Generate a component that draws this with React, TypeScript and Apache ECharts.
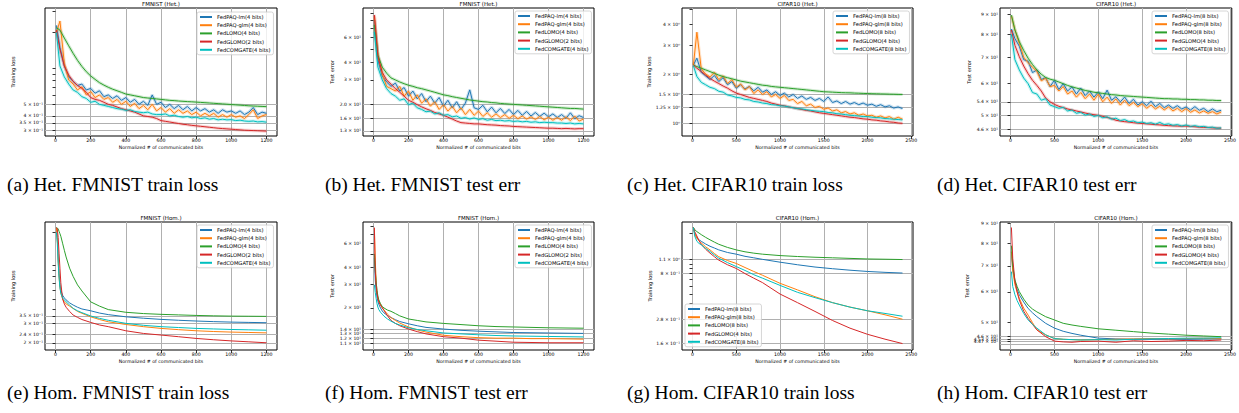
import React, { useEffect, useRef } from "react";
import * as echarts from "echarts";

const FONT = "DejaVu Sans";
const SERIF = "Liberation Serif";
const COLORS = ["#1f77b4", "#ff7f0e", "#2ca02c", "#d62728", "#00bfbf"];

const NAMES_F = ["FedPAQ-lm(4 bits)", "FedPAQ-glm(4 bits)", "FedLOMO(4 bits)", "FedGLOMO(2 bits)", "FedCOMGATE(4 bits)"];
const NAMES_C = ["FedPAQ-lm(8 bits)", "FedPAQ-glm(8 bits)", "FedLOMO(8 bits)", "FedGLOMO(4 bits)", "FedCOMGATE(8 bits)"];

const TICKS_X_F = [0, 200, 400, 600, 800, 1000, 1200];
const TICKS_X_C = [0, 500, 1000, 1500, 2000, 2500];

// x positions (normalized # of communicated bits)
const XF = [5, 25, 50, 75, 100, 125, 150, 175, 200, 225, 250, 275, 300, 325, 350, 375, 400, 425, 450, 475, 500, 525, 550, 575, 600, 625, 650, 675, 700, 725, 750, 775, 800, 825, 850, 875, 900, 925, 950, 975, 1000, 1025, 1050, 1075, 1100, 1125, 1150, 1175, 1200];
const XC = [10, 50, 100, 150, 200, 250, 300, 350, 400, 450, 500, 550, 600, 650, 700, 750, 800, 850, 900, 950, 1000, 1050, 1100, 1150, 1200, 1250, 1300, 1350, 1400, 1450, 1500, 1550, 1600, 1650, 1700, 1750, 1800, 1850, 1900, 1950, 2000, 2050, 2100, 2150, 2200, 2250, 2300, 2350, 2400];
const XFH = [5, 10, 15, 20, 25, 30, 40, 50, 60, 80, 100, 125, 150, 200, 250, 300, 400, 500, 600, 700, 800, 900, 1000, 1100, 1200];
const XCH = [10, 25, 50, 75, 100, 150, 200, 250, 300, 400, 500, 600, 700, 800, 1000, 1200, 1400, 1600, 1800, 2000, 2200, 2400];

// (a) Het. FMNIST train loss
const A_LM = [2.3, 1.5, 1.05, 0.85, 0.78, 0.72, 0.74, 0.66, 0.68, 0.62, 0.65, 0.58, 0.6, 0.56, 0.59, 0.54, 0.57, 0.52, 0.55, 0.5, 0.53, 0.49, 0.6, 0.5, 0.52, 0.47, 0.5, 0.46, 0.49, 0.45, 0.48, 0.44, 0.47, 0.44, 0.46, 0.43, 0.45, 0.42, 0.45, 0.43, 0.44, 0.42, 0.44, 0.41, 0.43, 0.47, 0.41, 0.43, 0.42];
const A_GLM = [2.0, 2.5, 1.1, 0.8, 0.74, 0.66, 0.7, 0.6, 0.64, 0.57, 0.6, 0.55, 0.57, 0.52, 0.55, 0.5, 0.53, 0.48, 0.51, 0.46, 0.49, 0.45, 0.5, 0.44, 0.47, 0.43, 0.46, 0.42, 0.45, 0.42, 0.44, 0.41, 0.43, 0.4, 0.42, 0.4, 0.42, 0.39, 0.41, 0.39, 0.41, 0.39, 0.4, 0.38, 0.41, 0.45, 0.38, 0.4, 0.41];
const A_LOMO = [2.2, 2.1, 1.8, 1.55, 1.34, 1.17, 1.04, 0.94, 0.865, 0.81, 0.76, 0.725, 0.695, 0.67, 0.65, 0.63, 0.61, 0.6, 0.59, 0.58, 0.57, 0.565, 0.56, 0.555, 0.55, 0.545, 0.54, 0.537, 0.533, 0.53, 0.527, 0.525, 0.522, 0.519, 0.516, 0.513, 0.51, 0.507, 0.504, 0.501, 0.498, 0.495, 0.492, 0.489, 0.486, 0.484, 0.482, 0.48, 0.478];
const A_GLOMO = [2.1, 1.45, 1.05, 0.88, 0.78, 0.72, 0.68, 0.63, 0.57, 0.55, 0.54, 0.52, 0.5, 0.49, 0.475, 0.46, 0.45, 0.44, 0.43, 0.415, 0.4, 0.395, 0.39, 0.38, 0.365, 0.36, 0.355, 0.35, 0.345, 0.34, 0.337, 0.333, 0.33, 0.327, 0.324, 0.321, 0.318, 0.315, 0.313, 0.311, 0.309, 0.307, 0.305, 0.303, 0.302, 0.301, 0.3, 0.299, 0.298];
const A_COMGATE = [2.0, 1.05, 0.85, 0.74, 0.66, 0.63, 0.58, 0.56, 0.52, 0.53, 0.5, 0.49, 0.48, 0.47, 0.46, 0.455, 0.445, 0.45, 0.435, 0.43, 0.425, 0.43, 0.415, 0.41, 0.41, 0.415, 0.4, 0.405, 0.395, 0.39, 0.395, 0.385, 0.39, 0.38, 0.385, 0.375, 0.38, 0.37, 0.375, 0.37, 0.372, 0.365, 0.368, 0.362, 0.36, 0.362, 0.356, 0.358, 0.354];

// (b) Het. FMNIST test err
const B_LM = [80, 42, 32, 29, 27, 28.5, 25, 26.5, 23, 25, 22, 24, 21, 23, 20.5, 22.5, 19.5, 21.5, 19, 21, 18.5, 20.5, 25.5, 19, 18.5, 19.8, 17.8, 19.2, 17.5, 18.8, 17.3, 18.5, 17, 18.2, 16.8, 17.9, 16.6, 17.6, 16.5, 17.4, 16.4, 17.2, 16.2, 17, 16, 17.5, 15.9, 16.7, 16.2];
const B_GLM = [85, 45, 33, 27, 26, 25, 27, 23, 25, 21.5, 23.5, 20.5, 22, 19.5, 21, 18.5, 20, 18, 19.5, 17.5, 19, 17, 18.5, 16.8, 18, 16.5, 17.5, 16.3, 17.2, 16.2, 17, 16, 16.8, 15.9, 16.6, 15.8, 16.4, 15.7, 16.5, 15.6, 16.3, 15.5, 16.2, 15.5, 16.4, 15.4, 16.6, 15.3, 15.8];
const B_LOMO = [74, 45, 37, 33.5, 31, 30, 29, 28.2, 27.5, 27, 26.4, 26, 25.5, 25, 24.5, 24, 23.5, 23.2, 22.8, 22.5, 22.2, 21.9, 21.6, 21.4, 21.2, 21, 20.9, 20.7, 20.6, 20.4, 20.3, 20.2, 20.1, 20, 19.9, 19.8, 19.7, 19.6, 19.5, 19.4, 19.3, 19.2, 19.1, 19, 18.9, 18.8, 18.8, 18.7, 18.6];
const B_GLOMO = [87, 44, 34, 30, 28, 26, 24.5, 23, 21.5, 20.8, 20, 19.3, 18.7, 18.2, 17.6, 17.2, 16.8, 16.3, 15.8, 15.3, 14.9, 14.8, 14.7, 14.6, 14.6, 14.5, 14.4, 14.35, 14.3, 14.2, 14.15, 14.1, 14, 13.95, 13.9, 13.85, 13.8, 13.75, 13.7, 13.65, 13.6, 13.6, 13.55, 13.5, 13.55, 13.5, 13.45, 13.5, 13.5];
const B_COMGATE = [66, 37, 30, 26, 24, 23, 21.5, 22, 20, 20.5, 19, 18.5, 17.8, 18, 17.2, 17.5, 16.8, 17, 16.4, 16.6, 16, 16.2, 15.8, 16.1, 15.7, 15.9, 15.5, 15.7, 15.4, 15.5, 15.3, 15.4, 15.2, 15.3, 15.1, 15.2, 15, 15.1, 14.9, 15, 14.9, 14.9, 14.8, 14.8, 14.7, 14.8, 14.6, 14.7, 14.6];

// (c) Het. CIFAR10 train loss
const C_LM = [2.27, 2.5, 2.05, 1.95, 1.85, 1.96, 1.8, 1.9, 1.72, 1.8, 1.64, 1.72, 1.62, 1.68, 1.58, 1.66, 1.55, 1.6, 1.5, 1.56, 1.48, 1.53, 1.45, 1.5, 1.42, 1.47, 1.4, 1.44, 1.38, 1.42, 1.36, 1.45, 1.34, 1.37, 1.32, 1.36, 1.31, 1.34, 1.3, 1.33, 1.29, 1.31, 1.27, 1.3, 1.26, 1.28, 1.24, 1.26, 1.23];
const C_GLM = [2.27, 3.6, 2.15, 2.0, 1.92, 2.05, 1.85, 1.95, 1.75, 1.85, 1.66, 1.74, 1.6, 1.68, 1.52, 1.6, 1.5, 1.56, 1.45, 1.5, 1.42, 1.48, 1.38, 1.4, 1.32, 1.36, 1.28, 1.31, 1.25, 1.27, 1.22, 1.24, 1.19, 1.21, 1.16, 1.18, 1.14, 1.16, 1.12, 1.14, 1.11, 1.12, 1.09, 1.11, 1.08, 1.1, 1.06, 1.09, 1.06];
const C_LOMO = [2.27, 2.22, 2.17, 2.12, 2.07, 2.02, 1.97, 1.93, 1.9, 1.87, 1.84, 1.81, 1.79, 1.77, 1.75, 1.73, 1.71, 1.7, 1.68, 1.67, 1.66, 1.65, 1.64, 1.63, 1.62, 1.61, 1.6, 1.59, 1.58, 1.57, 1.56, 1.555, 1.55, 1.545, 1.54, 1.537, 1.535, 1.53, 1.527, 1.523, 1.52, 1.517, 1.515, 1.512, 1.51, 1.507, 1.505, 1.502, 1.5];
const C_GLOMO = [2.27, 2.17, 2.07, 1.97, 1.88, 1.81, 1.75, 1.69, 1.64, 1.58, 1.53, 1.5, 1.47, 1.44, 1.42, 1.4, 1.38, 1.36, 1.33, 1.31, 1.29, 1.28, 1.26, 1.245, 1.23, 1.215, 1.2, 1.19, 1.175, 1.16, 1.15, 1.14, 1.13, 1.12, 1.11, 1.1, 1.09, 1.085, 1.075, 1.065, 1.06, 1.05, 1.045, 1.035, 1.03, 1.02, 1.015, 1.005, 1.0];
const C_COMGATE = [2.25, 1.93, 1.78, 1.72, 1.66, 1.63, 1.57, 1.55, 1.49, 1.47, 1.44, 1.43, 1.4, 1.39, 1.36, 1.35, 1.33, 1.32, 1.3, 1.295, 1.28, 1.275, 1.26, 1.245, 1.23, 1.225, 1.21, 1.2, 1.19, 1.185, 1.18, 1.165, 1.16, 1.145, 1.14, 1.13, 1.12, 1.115, 1.11, 1.1, 1.1, 1.09, 1.085, 1.08, 1.07, 1.065, 1.06, 1.055, 1.05];

// (d) Het. CIFAR10 test err
const D_LM = [82.5, 78, 74.6, 69, 68.4, 64, 65, 61.5, 62.1, 59, 61.2, 58, 60, 57.5, 58.9, 56.5, 58.5, 56, 57.5, 55.5, 57.2, 55, 57.8, 54.5, 55.6, 54, 55.5, 53.5, 54.8, 53, 54, 52.8, 54.2, 52.5, 53.5, 52.2, 53, 52, 52.8, 51.8, 52.4, 51.5, 52.5, 51.4, 52, 51, 51.8, 51, 51.4];
const D_GLM = [89, 82, 75.9, 70, 67.8, 66, 64.5, 61, 62, 59, 59.4, 57.5, 59, 56.5, 57.5, 55.5, 57, 55, 56.5, 54.5, 56.5, 54, 55.5, 53.5, 54.9, 53, 54.5, 52.8, 53.8, 52.5, 53.4, 52, 53, 51.8, 52.6, 51.5, 52.4, 51.2, 52, 51, 51.9, 50.8, 51.5, 50.6, 51.2, 50.5, 51, 50.3, 50.9];
const D_LOMO = [89.4, 82, 76.6, 72.8, 69.6, 67.1, 65, 63.4, 62.2, 61.6, 61.2, 60.6, 60, 59.4, 58.9, 58.5, 58.1, 57.7, 57.4, 57.1, 56.9, 56.7, 56.5, 56.3, 56.2, 56, 55.9, 55.8, 55.7, 55.6, 55.5, 55.4, 55.3, 55.2, 55.1, 55, 55, 54.9, 54.9, 54.8, 54.8, 54.7, 54.7, 54.6, 54.6, 54.5, 54.5, 54.4, 54.4];
const D_GLOMO = [82, 75, 70.2, 66.5, 63.6, 61.2, 59.4, 57.5, 55.2, 54, 53.2, 52.6, 52.2, 51.8, 51.5, 51.2, 50.9, 50.6, 50.3, 50.1, 49.9, 49.6, 49.3, 49, 48.5, 48.3, 48.1, 48, 47.8, 47.7, 47.6, 47.5, 47.4, 47.3, 47.2, 47.1, 47, 46.95, 46.9, 46.85, 46.9, 46.8, 46.7, 46.6, 46.55, 46.5, 46.4, 46.35, 46.3];
const D_COMGATE = [80, 69, 65, 62, 60, 57, 56.5, 54.5, 55, 53, 52.5, 52, 52.3, 51.2, 51.5, 50.5, 50.8, 50, 50.3, 49.6, 49.9, 49.2, 49.5, 48.8, 49.1, 48.4, 48.7, 48.1, 48.3, 47.8, 48, 47.6, 47.8, 47.4, 47.9, 47.3, 47.5, 47.1, 47.3, 46.9, 47.2, 46.8, 47, 46.7, 46.8, 46.5, 46.6, 46.3, 46.4];

// (e) Hom. FMNIST train loss
const E_LM = [2.2, 1.8, 1.2, 0.85, 0.68, 0.6, 0.54, 0.51, 0.49, 0.46, 0.44, 0.42, 0.405, 0.39, 0.372, 0.36, 0.344, 0.334, 0.326, 0.32, 0.315, 0.311, 0.308, 0.306, 0.304];
const E_GLM = [2.2, 1.75, 1.1, 0.8, 0.64, 0.57, 0.5, 0.47, 0.45, 0.43, 0.41, 0.385, 0.37, 0.344, 0.325, 0.31, 0.293, 0.28, 0.27, 0.263, 0.257, 0.253, 0.25, 0.248, 0.246];
const E_LOMO = [2.22, 2.2, 2.15, 2.05, 1.95, 1.85, 1.6, 1.38, 1.2, 0.95, 0.8, 0.67, 0.59, 0.47, 0.43, 0.4, 0.378, 0.368, 0.362, 0.358, 0.354, 0.351, 0.349, 0.348, 0.347];
const E_GLOMO = [2.22, 2.15, 1.8, 1.3, 0.95, 0.7, 0.5, 0.45, 0.42, 0.385, 0.357, 0.34, 0.325, 0.306, 0.29, 0.28, 0.257, 0.243, 0.235, 0.227, 0.219, 0.213, 0.208, 0.204, 0.2];
const E_COMGATE = [2.0, 1.6, 1.05, 0.78, 0.63, 0.56, 0.51, 0.49, 0.47, 0.44, 0.41, 0.39, 0.375, 0.35, 0.333, 0.32, 0.3, 0.288, 0.28, 0.275, 0.27, 0.267, 0.264, 0.262, 0.26];

// (f) Hom. FMNIST test err
const F_LM = [46.6, 32, 27, 24, 22.5, 21.3, 20, 19, 18.4, 17.6, 17, 16.4, 15.9, 15.3, 14.8, 14.4, 14, 13.7, 13.5, 13.35, 13.2, 13.15, 13.1, 13.05, 13];
const F_GLM = [77, 45, 32, 26, 23.8, 22.5, 21, 20.2, 19.3, 18, 17, 16.2, 15.5, 14.5, 13.8, 13.3, 12.6, 12.3, 12.1, 12, 12, 11.9, 11.9, 11.85, 11.8];
const F_LOMO = [50, 38, 31, 27, 24.5, 23, 21.5, 20.5, 20, 19.3, 18.9, 18.2, 17.5, 16.6, 16.2, 15.8, 15.4, 15.1, 14.8, 14.6, 14.5, 14.4, 14.3, 14.25, 14.2];
const F_GLOMO = [78, 37, 29, 25.6, 23.5, 22.2, 21, 20, 19.2, 17.5, 16.2, 15.4, 14.8, 14, 13.4, 12.9, 12.3, 12, 11.6, 11.4, 11.2, 11.15, 11.1, 11.1, 11.1];
const F_COMGATE = [29.6, 26, 23.5, 21.5, 20.3, 19.5, 18.6, 18, 17.4, 16.6, 16, 15.4, 15, 14.3, 13.9, 13.6, 13.1, 12.9, 12.7, 12.55, 12.45, 12.4, 12.35, 12.3, 12.25];

// (g) Hom. CIFAR10 train loss
const G_LM = [2.31, 2.0, 1.82, 1.74, 1.68, 1.58, 1.5, 1.44, 1.38, 1.3, 1.25, 1.19, 1.15, 1.11, 1.04, 0.98, 0.93, 0.895, 0.865, 0.84, 0.823, 0.81];
const G_GLM = [2.31, 2.0, 1.8, 1.7, 1.62, 1.48, 1.38, 1.27, 1.18, 1.08, 1.01, 0.92, 0.84, 0.77, 0.64, 0.55, 0.47, 0.41, 0.37, 0.34, 0.31, 0.28];
const G_LOMO = [2.31, 2.2, 2.1, 2.03, 1.96, 1.84, 1.74, 1.65, 1.57, 1.46, 1.38, 1.32, 1.28, 1.25, 1.21, 1.185, 1.165, 1.15, 1.135, 1.12, 1.113, 1.105];
const G_GLOMO = [2.31, 2.1, 1.9, 1.7, 1.57, 1.4, 1.28, 1.18, 1.09, 0.98, 0.9, 0.8, 0.72, 0.65, 0.5, 0.41, 0.335, 0.272, 0.228, 0.198, 0.177, 0.16];
const G_COMGATE = [2.31, 1.9, 1.68, 1.6, 1.55, 1.43, 1.33, 1.23, 1.14, 1.03, 0.94, 0.86, 0.78, 0.72, 0.61, 0.52, 0.46, 0.41, 0.37, 0.34, 0.32, 0.3];

// (h) Hom. CIFAR10 test err
const H_LM = [76, 68.5, 63.9, 61, 59, 56.5, 54.4, 53, 51.8, 49.8, 48.4, 47.5, 46.9, 46.4, 45.6, 45.4, 45.3, 45.3, 45.3, 45.3, 45.4, 45.5];
const H_GLM = [76.3, 68, 62.6, 60, 57.8, 54.5, 52.3, 50, 47.9, 46.5, 45.5, 45.3, 45.2, 45.1, 45.2, 45.3, 45.4, 45.5, 45.4, 45.5, 45.6, 45.5];
const H_LOMO = [79, 70, 64.4, 62, 60.1, 57.5, 55.5, 54.2, 53.3, 51.8, 50.8, 49.8, 49.3, 48.9, 48.2, 47.8, 47.4, 47, 46.7, 46.4, 46.2, 46];
const H_GLOMO = [88, 73.3, 63.9, 60, 57.2, 53.5, 51.3, 49.5, 47.9, 46, 44.8, 44.6, 44.5, 44.7, 44.8, 44.5, 44.9, 44.7, 44.8, 45, 44.9, 45.1];
const H_COMGATE = [67.7, 62, 59, 57, 55.5, 52.8, 50.8, 49.5, 48.4, 46.5, 45.5, 45.3, 45.2, 45.1, 45.2, 45.1, 45.3, 45.4, 45.5, 45.6, 45.6, 45.7];

// y tick values & labels
const A_YT = [0.3, 0.35, 0.4, 0.5];
const A_YL = ["3 × 10⁻¹", "3.5 × 10⁻¹", "4 × 10⁻¹", "5 × 10⁻¹"];
const A_YM = [0.6, 0.7, 0.8, 0.9, 1, 2, 3];
const A_YG = [0.3, 0.35, 0.4, 0.5];

const B_YT = [13, 16, 20, 30, 40, 60];
const B_YL = ["1.3 × 10¹", "1.6 × 10¹", "2.0 × 10¹", "3 × 10¹", "4 × 10¹", "6 × 10¹"];
const B_YM = [50, 70, 80, 90];
const B_YG = [13, 16, 20];

const C_YT = [1, 1.25, 1.5, 2, 3, 4];
const C_YL = ["10⁰", "1.25 × 10⁰", "1.5 × 10⁰", "2 × 10⁰", "3 × 10⁰", "4 × 10⁰"];
const C_YM = [5];
const C_YG = [1, 1.25, 1.5];

const D_YT = [46, 50, 54, 60, 70, 80, 90];
const D_YL = ["4.6 × 10¹", "5 × 10¹", "5.4 × 10¹", "6 × 10¹", "7 × 10¹", "8 × 10¹", "9 × 10¹"];
const D_YM: number[] = [];
const D_YG = [46, 50, 54];

const E_YT = [0.2, 0.24, 0.3, 0.35];
const E_YL = ["2 × 10⁻¹", "2.4 × 10⁻¹", "3 × 10⁻¹", "3.5 × 10⁻¹"];
const E_YM = [0.4, 0.5, 0.6, 0.7, 0.8, 0.9, 1, 2];
const E_YG = [0.2, 0.24, 0.3, 0.35];

const F_YT = [11, 12, 13, 14, 20, 30, 40, 60];
const F_YL = ["1.1 × 10¹", "1.2 × 10¹", "1.3 × 10¹", "1.4 × 10¹", "2 × 10¹", "3 × 10¹", "4 × 10¹", "6 × 10¹"];
const F_YM = [50, 70, 80];
const F_YG = [11, 12, 13, 14];

const G_YT = [0.16, 0.28, 0.8, 1.1];
const G_YL = ["1.6 × 10⁻¹", "2.8 × 10⁻¹", "8 × 10⁻¹", "1.1 × 10⁰"];
const G_YM = [0.2, 0.3, 0.4, 0.5, 0.6, 0.7, 0.9, 1, 2];
const G_YG = [0.16, 0.28, 0.8, 1.1];

const H_YT = [44, 44.7, 45.3, 46, 50, 60, 70, 80, 90];
const H_YL = ["4.4 × 10¹", "4.47 × 10¹", "4.53 × 10¹", "4.6 × 10¹", "5 × 10¹", "6 × 10¹", "7 × 10¹", "8 × 10¹", "9 × 10¹"];
const H_YM: number[] = [];
const H_YG = [44, 44.7, 45.3, 46];

const PANELS = [
  { title: "FMNIST (Het.)", caption: "(a) Het. FMNIST train loss", yName: "Training loss", names: NAMES_F, xs: XF, data: [A_LM, A_GLM, A_LOMO, A_GLOMO, A_COMGATE], band: true, xTicks: TICKS_X_F, xMin: -60, xMax: 1260, yMin: 0.271, yMax: 3.22, yT: A_YT, yL: A_YL, yM: A_YM, yG: A_YG, box: [45, 8, 232, 128], leg: [197, 12], cap: [7, 184] },
  { title: "FMNIST (Het.)", caption: "(b) Het. FMNIST test err", yName: "Test error", names: NAMES_F, xs: XF, data: [B_LM, B_GLM, B_LOMO, B_GLOMO, B_COMGATE], band: true, xTicks: TICKS_X_F, xMin: -60, xMax: 1260, yMin: 11.97, yMax: 97.5, yT: B_YT, yL: B_YL, yM: B_YM, yG: B_YG, box: [363, 8, 231, 128], leg: [515, 11], cap: [325, 184] },
  { title: "CIFAR10 (Het.)", caption: "(c) Het. CIFAR10 train loss", yName: "Training loss", names: NAMES_C, xs: XC, data: [C_LM, C_GLM, C_LOMO, C_GLOMO, C_COMGATE], band: true, xTicks: TICKS_X_C, xMin: -120, xMax: 2520, yMin: 0.837, yMax: 5.06, yT: C_YT, yL: C_YL, yM: C_YM, yG: C_YG, box: [682, 8, 231, 128], leg: [833, 11], cap: [627, 184] },
  { title: "CIFAR10 (Het.)", caption: "(d) Het. CIFAR10 test err", yName: "Test error", names: NAMES_C, xs: XC, data: [D_LM, D_GLM, D_LOMO, D_GLOMO, D_COMGATE], band: true, xTicks: TICKS_X_C, xMin: -120, xMax: 2520, yMin: 44.26, yMax: 93.2, yT: D_YT, yL: D_YL, yM: D_YM, yG: D_YG, box: [1000, 8, 232, 128], leg: [1152, 11], cap: [937, 184] },
  { title: "FMNIST (Hom.)", caption: "(e) Hom. FMNIST train loss", yName: "Training loss", names: NAMES_F, xs: XFH, data: [E_LM, E_GLM, E_LOMO, E_GLOMO, E_COMGATE], band: false, xTicks: TICKS_X_F, xMin: -60, xMax: 1260, yMin: 0.172, yMax: 2.49, yT: E_YT, yL: E_YL, yM: E_YM, yG: E_YG, box: [45, 222, 232, 128], leg: [197, 225], cap: [7, 392] },
  { title: "FMNIST (Hom.)", caption: "(f) Hom. FMNIST test err", yName: "Test error", names: NAMES_F, xs: XFH, data: [F_LM, F_GLM, F_LOMO, F_GLOMO, F_COMGATE], band: false, xTicks: TICKS_X_F, xMin: -60, xMax: 1260, yMin: 9.82, yMax: 85.7, yT: F_YT, yL: F_YL, yM: F_YM, yG: F_YG, box: [363, 222, 231, 128], leg: [515, 225], cap: [325, 392] },
  { title: "CIFAR10 (Hom.)", caption: "(g) Hom. CIFAR10 train loss", yName: "Training loss", names: NAMES_C, xs: XCH, data: [G_LM, G_GLM, G_LOMO, G_GLOMO, G_COMGATE], band: false, xTicks: TICKS_X_C, xMin: -120, xMax: 2520, yMin: 0.138, yMax: 2.62, yT: G_YT, yL: G_YL, yM: G_YM, yG: G_YG, box: [682, 222, 231, 128], leg: [685, 304], cap: [627, 392] },
  { title: "CIFAR10 (Hom.)", caption: "(h) Hom. CIFAR10 test err", yName: "Test error", names: NAMES_C, xs: XCH, data: [H_LM, H_GLM, H_LOMO, H_GLOMO, H_COMGATE], band: false, xTicks: TICKS_X_C, xMin: -120, xMax: 2520, yMin: 42.5, yMax: 90.9, yT: H_YT, yL: H_YL, yM: H_YM, yG: H_YG, box: [1000, 222, 232, 128], leg: [1152, 225], cap: [937, 392] },
];

function buildOption() {
  const grid: any[] = [];
  const xAxis: any[] = [];
  const yAxis: any[] = [];
  const series: any[] = [];
  const legend: any[] = [];
  const graphic: any[] = [];
  const tickLine = { color: "#000", width: 0.8 };

  PANELS.forEach((p, i) => {
    const [gl, gt, gw, gh] = p.box;
    grid.push({ left: gl, top: gt, width: gw, height: gh, show: true, borderColor: "#000", borderWidth: 1, backgroundColor: "transparent" });
    xAxis.push({
      type: "value", gridIndex: i, min: p.xMin, max: p.xMax,
      name: "Normalized # of communicated bits", nameLocation: "middle", nameGap: 9,
      nameTextStyle: { fontSize: 4.7, color: "#000", fontFamily: FONT },
      axisLine: { show: false },
      axisTick: { show: true, inside: false, length: 3, lineStyle: tickLine, customValues: p.xTicks },
      axisLabel: { show: true, fontSize: 4.7, color: "#000", margin: 2, fontFamily: FONT, customValues: p.xTicks, formatter: (v: number) => String(Math.round(v)) },
      splitLine: { show: true, lineStyle: { color: "#b0b0b0", width: 1 } },
    });
    const labelOf = (v: number) => {
      let best = 0, bd = Infinity;
      p.yT.forEach((t, j) => { const d = Math.abs(Math.log(v / t)); if (d < bd) { bd = d; best = j; } });
      return p.yL[best];
    };
    yAxis.push({
      type: "log", logBase: 10, gridIndex: i, min: p.yMin, max: p.yMax, position: "left",
      name: p.yName, nameLocation: "middle", nameGap: 29,
      nameTextStyle: { fontSize: 5, color: "#000", fontFamily: FONT },
      axisLine: { show: false },
      axisTick: { show: true, length: 3, lineStyle: tickLine, customValues: [...p.yT, ...p.yM] },
      axisLabel: { show: true, fontSize: 4.5, color: "#000", margin: 2, fontFamily: FONT, customValues: p.yT, formatter: labelOf },
      splitLine: { show: false },
      minorTick: { show: false },
    });
    yAxis.push({
      type: "log", logBase: 10, gridIndex: i, min: p.yMin, max: p.yMax, position: "left",
      axisLine: { show: false },
      axisTick: { show: false, customValues: p.yG },
      axisLabel: { show: false },
      splitLine: { show: true, lineStyle: { color: "#b0b0b0", width: 1 } },
    });
    if (p.band) {
      p.data.forEach((vals, k) => {
        series.push({
          type: "line", name: "band-" + i + "-" + k, xAxisIndex: i, yAxisIndex: 2 * i,
          data: p.xs.map((x, j) => [x, vals[j]]),
          showSymbol: false, symbol: "none", silent: true,
          lineStyle: { width: 3.2, color: COLORS[k], opacity: 0.22 },
          itemStyle: { color: COLORS[k] },
        });
      });
    }
    p.data.forEach((vals, k) => {
      series.push({
        type: "line", name: p.names[k], xAxisIndex: i, yAxisIndex: 2 * i,
        data: p.xs.map((x, j) => [x, vals[j]]),
        showSymbol: false, symbol: "none", silent: true,
        color: COLORS[k],
        lineStyle: { width: 1, color: COLORS[k] },
        itemStyle: { color: COLORS[k] },
      });
    });
    legend.push({
      left: p.leg[0], top: p.leg[1], orient: "vertical", data: p.names, icon: "rect",
      itemWidth: 12, itemHeight: 2, itemGap: 2.2, padding: [2, 3, 2, 3],
      textStyle: { fontSize: 5.2, color: "#000", fontFamily: FONT, lineHeight: 6 },
      borderColor: "#cccccc", borderWidth: 0.8, borderRadius: 2, backgroundColor: "rgba(255,255,255,0.8)",
      selectedMode: false,
    });
    graphic.push({
      type: "text", x: gl + gw / 2, y: gt - 4, silent: true,
      style: { text: p.title, fontSize: 5.5, fontFamily: FONT, fill: "#000", align: "center", verticalAlign: "middle" },
    });
    graphic.push({
      type: "text", x: p.cap[0], y: p.cap[1], silent: true,
      style: { text: p.caption, fontSize: 19.5, fontFamily: SERIF, fill: "#000", align: "left", verticalAlign: "middle" },
    });
  });

  return {
    animation: false,
    backgroundColor: "#fff",
    textStyle: { fontFamily: FONT },
    grid, xAxis, yAxis, series, legend, graphic,
  };
}

export default function App() {
  const ref = useRef<HTMLDivElement>(null);
  useEffect(() => {
    const chart = echarts.init(ref.current!, null, { renderer: "svg" });
    chart.setOption(buildOption() as any);
    return () => chart.dispose();
  }, []);
  return <div ref={ref} style={{ position: "fixed", left: 0, top: 0, width: 1239, height: 413, background: "#fff" }} />;
}
